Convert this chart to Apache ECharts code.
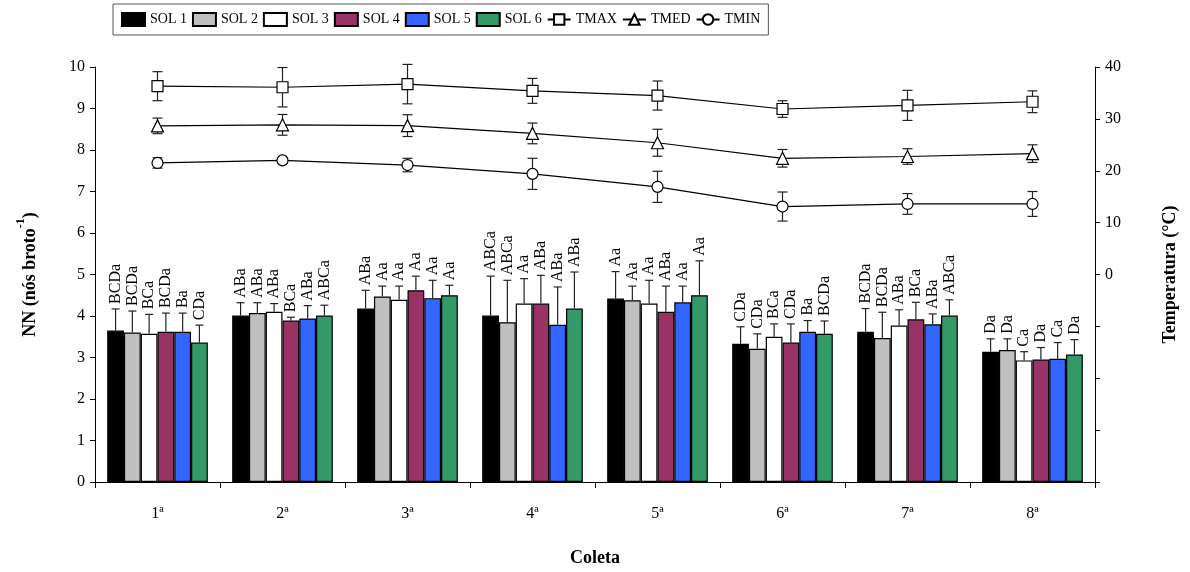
<!DOCTYPE html>
<html>
<head>
<meta charset="utf-8">
<style>
  html, body { margin: 0; padding: 0; background: #fff; }
  #chart { width: 1190px; height: 572px; }
</style>
<script src="https://cdn.jsdelivr.net/npm/echarts@6/dist/echarts.min.js"></script>
</head>
<body>
<div id="chart"></div>
<script>
// Collection dates
const categories = ['1ª', '2ª', '3ª', '4ª', '5ª', '6ª', '7ª', '8ª'];

// Node number per shoot (mean) for each substrate
const sol1 = [3.65, 4.01, 4.18, 4.01, 4.42, 3.33, 3.62, 3.14];
const sol2 = [3.60, 4.07, 4.47, 3.85, 4.38, 3.21, 3.47, 3.18];
const sol3 = [3.57, 4.10, 4.39, 4.30, 4.30, 3.50, 3.77, 2.93];
const sol4 = [3.62, 3.89, 4.62, 4.30, 4.10, 3.36, 3.92, 2.95];
const sol5 = [3.62, 3.94, 4.43, 3.79, 4.33, 3.62, 3.80, 2.97];
const sol6 = [3.36, 4.01, 4.50, 4.18, 4.50, 3.57, 4.01, 3.07];

// Standard deviations (upper error bars)
const sol1Sd = [0.52, 0.31, 0.44, 0.95, 0.65, 0.41, 0.56, 0.31];
const sol2Sd = [0.52, 0.25, 0.25, 1.01, 0.34, 0.36, 0.62, 0.27];
const sol3Sd = [0.47, 0.20, 0.33, 0.60, 0.56, 0.31, 0.38, 0.21];
const sol4Sd = [0.45, 0.08, 0.34, 0.68, 0.62, 0.45, 0.41, 0.29];
const sol5Sd = [0.45, 0.31, 0.43, 0.91, 0.39, 0.27, 0.25, 0.39];
const sol6Sd = [0.42, 0.25, 0.24, 0.88, 0.83, 0.31, 0.38, 0.36];

// Mean comparison letters
const sol1Letters = ['BCDa', 'ABa', 'ABa', 'ABCa', 'Aa', 'CDa', 'BCDa', 'Da'];
const sol2Letters = ['BCDa', 'ABa', 'Aa', 'ABCa', 'Aa', 'CDa', 'BCDa', 'Da'];
const sol3Letters = ['BCa', 'ABa', 'Aa', 'Aa', 'Aa', 'BCa', 'ABa', 'Ca'];
const sol4Letters = ['BCDa', 'BCa', 'Aa', 'ABa', 'ABa', 'CDa', 'BCa', 'Da'];
const sol5Letters = ['Ba', 'ABa', 'Aa', 'ABa', 'Aa', 'Ba', 'ABa', 'Ca'];
const sol6Letters = ['CDa', 'ABCa', 'Aa', 'ABa', 'Aa', 'BCDa', 'ABCa', 'Da'];

// Temperatures (°C) and their standard deviations
const tmax = [36.3, 36.1, 36.7, 35.4, 34.5, 31.9, 32.6, 33.3];
const tmaxSd = [2.8, 3.8, 3.8, 2.4, 2.8, 1.6, 2.9, 2.1];
const tmed = [28.65, 28.85, 28.7, 27.2, 25.4, 22.4, 22.75, 23.3];
const tmedSd = [1.5, 2.0, 2.1, 2.0, 2.6, 1.7, 1.5, 1.7];
const tmin = [21.5, 22.0, 21.1, 19.4, 16.9, 13.1, 13.6, 13.6];
const tminSd = [1.0, 0.5, 1.3, 3.0, 3.0, 2.8, 2.0, 2.4];

// Right axis tick labels (negative ticks stay unlabeled)
const tempTickLabels = ['0', '10', '20', '30', '40'];

const FONT = "'Liberation Serif', 'Times New Roman', serif";
const solNames = ['SOL 1', 'SOL 2', 'SOL 3', 'SOL 4', 'SOL 5', 'SOL 6'];
const solColors = ['#000000', '#c0c0c0', '#ffffff', '#993366', '#3366ff', '#339966'];
const solMeans = [sol1, sol2, sol3, sol4, sol5, sol6];
const solSds = [sol1Sd, sol2Sd, sol3Sd, sol4Sd, sol5Sd, sol6Sd];
const solLetters = [sol1Letters, sol2Letters, sol3Letters, sol4Letters, sol5Letters, sol6Letters];
const CAT_GAP = 0.195;

const barSeries = solNames.map((name, k) => ({
  name: name,
  type: 'bar',
  yAxisIndex: 0,
  barGap: '0%',
  barCategoryGap: (CAT_GAP * 100) + '%',
  itemStyle: { color: solColors[k], borderColor: '#000', borderWidth: 1.2 },
  emphasis: { disabled: true },
  data: solMeans[k],
  z: 2
}));

// Error bars + letters above each bar
const barErrData = [];
solMeans.forEach((arr, k) => {
  arr.forEach((m, c) => {
    barErrData.push([c, k, m, +(m + solSds[k][c]).toFixed(3)]);
  });
});
const barErrLabels = [];
solLetters.forEach((arr) => arr.forEach((t) => barErrLabels.push(t)));

const barErrSeries = {
  type: 'custom',
  yAxisIndex: 0,
  z: 3,
  silent: true,
  data: barErrData,
  renderItem: function (params, api) {
    const c = api.value(0), k = api.value(1), m = api.value(2), top = api.value(3);
    const pTop = api.coord([c, top]);
    const pMean = api.coord([c, m]);
    const band = api.size([1, 0])[0];
    const bw = band * (1 - CAT_GAP) / 6;
    const x = pTop[0] - 3 * bw + (k + 0.5) * bw;
    const st = { stroke: '#222', lineWidth: 1.2 };
    return {
      type: 'group',
      children: [
        { type: 'line', shape: { x1: x, y1: pMean[1], x2: x, y2: pTop[1] }, style: st },
        { type: 'line', shape: { x1: x - 4, y1: pTop[1], x2: x + 4, y2: pTop[1] }, style: st },
        {
          type: 'text', x: x, y: pTop[1] - 5, rotation: Math.PI / 2,
          style: {
            text: barErrLabels[params.dataIndex], fill: '#000',
            font: '16px ' + FONT, align: 'left', verticalAlign: 'middle'
          }
        }
      ]
    };
  }
};

const tempDefs = [
  { name: 'TMAX', vals: tmax, sd: tmaxSd, symbol: 'rect', size: 11 },
  { name: 'TMED', vals: tmed, sd: tmedSd, symbol: 'triangle', size: 12 },
  { name: 'TMIN', vals: tmin, sd: tminSd, symbol: 'circle', size: 11 }
];

const lineSeries = tempDefs.map((d) => ({
  name: d.name,
  type: 'line',
  yAxisIndex: 1,
  data: d.vals,
  symbol: d.symbol,
  symbolSize: d.size,
  showAllSymbol: true,
  lineStyle: { color: '#000', width: 1.2 },
  itemStyle: { color: '#fff', borderColor: '#000', borderWidth: 1.2 },
  emphasis: { disabled: true },
  z: 5
}));

const tempErrData = [];
tempDefs.forEach((d) => d.vals.forEach((v, c) => {
  tempErrData.push([c, +(v - d.sd[c]).toFixed(2), +(v + d.sd[c]).toFixed(2)]);
}));

const tempErrSeries = {
  type: 'custom',
  yAxisIndex: 1,
  z: 4,
  silent: true,
  data: tempErrData,
  renderItem: function (params, api) {
    const c = api.value(0);
    const lo = api.coord([c, api.value(1)]);
    const hi = api.coord([c, api.value(2)]);
    const st = { stroke: '#222', lineWidth: 1.2 };
    return {
      type: 'group',
      children: [
        { type: 'line', shape: { x1: lo[0], y1: lo[1], x2: hi[0], y2: hi[1] }, style: st },
        { type: 'line', shape: { x1: lo[0] - 5, y1: lo[1], x2: lo[0] + 5, y2: lo[1] }, style: st },
        { type: 'line', shape: { x1: hi[0] - 5, y1: hi[1], x2: hi[0] + 5, y2: hi[1] }, style: st }
      ]
    };
  }
};

const axisLineStyle = { show: true, lineStyle: { color: '#000', width: 1 } };

const legendData = solNames.map((n) => ({ name: n, icon: 'rect' }))
  .concat(['TMAX', 'TMED', 'TMIN'].map((n) => ({ name: n })));

const chart = echarts.init(document.getElementById('chart'), null, { renderer: 'canvas' });
chart.setOption({
  animation: false,
  backgroundColor: '#fff',
  textStyle: { fontFamily: FONT, color: '#000' },
  legend: {
    left: 113,
    top: 4,
    padding: [8, 8],
    borderColor: '#555',
    borderWidth: 1,
    itemWidth: 23,
    itemHeight: 13,
    itemGap: 5,
    textStyle: { fontFamily: FONT, fontSize: 14, color: '#000' },
    data: legendData
  },
  grid: { left: 95, right: 95, top: 67, bottom: 89, containLabel: false },
  xAxis: {
    type: 'category',
    data: categories,
    boundaryGap: true,
    name: 'Coleta',
    nameLocation: 'middle',
    nameGap: 67,
    nameTextStyle: { fontFamily: FONT, fontSize: 18, fontWeight: 'bold', color: '#000' },
    axisLine: axisLineStyle,
    axisTick: { show: true, length: 6, lineStyle: { color: '#000' } },
    axisLabel: { margin: 24, fontSize: 16, fontFamily: FONT, color: '#000' },
    splitLine: { show: false }
  },
  yAxis: [
    {
      type: 'value',
      min: 0, max: 10, interval: 1,
      position: 'left',
      name: '{b|NN (nós broto}{s|-1}{b|)}',
      nameLocation: 'middle',
      nameGap: 56,
      nameRotate: 90,
      nameTextStyle: {
        rich: {
          b: { fontFamily: FONT, fontSize: 18, fontWeight: 'bold', color: '#000', lineHeight: 24, verticalAlign: 'bottom' },
          s: { fontFamily: FONT, fontSize: 12, fontWeight: 'bold', color: '#000', lineHeight: 12, verticalAlign: 'top' }
        }
      },
      axisLine: axisLineStyle,
      axisTick: { show: true, length: 5, lineStyle: { color: '#000' } },
      axisLabel: { margin: 10, fontSize: 16, fontFamily: FONT, color: '#000' },
      splitLine: { show: false }
    },
    {
      type: 'value',
      min: -40, max: 40, interval: 10,
      position: 'right',
      name: 'Temperatura (°C)',
      nameLocation: 'middle',
      nameGap: 66,
      nameRotate: 90,
      nameTextStyle: { fontFamily: FONT, fontSize: 18, fontWeight: 'bold', color: '#000' },
      axisLine: axisLineStyle,
      axisTick: { show: true, length: 5, lineStyle: { color: '#000' } },
      axisLabel: {
        margin: 10, fontSize: 16, fontFamily: FONT, color: '#000',
        formatter: (v) => (tempTickLabels.indexOf(String(v)) >= 0 ? String(v) : '')
      },
      splitLine: { show: false }
    }
  ],
  series: barSeries.concat([barErrSeries], lineSeries, [tempErrSeries])
});
</script>
</body>
</html>
